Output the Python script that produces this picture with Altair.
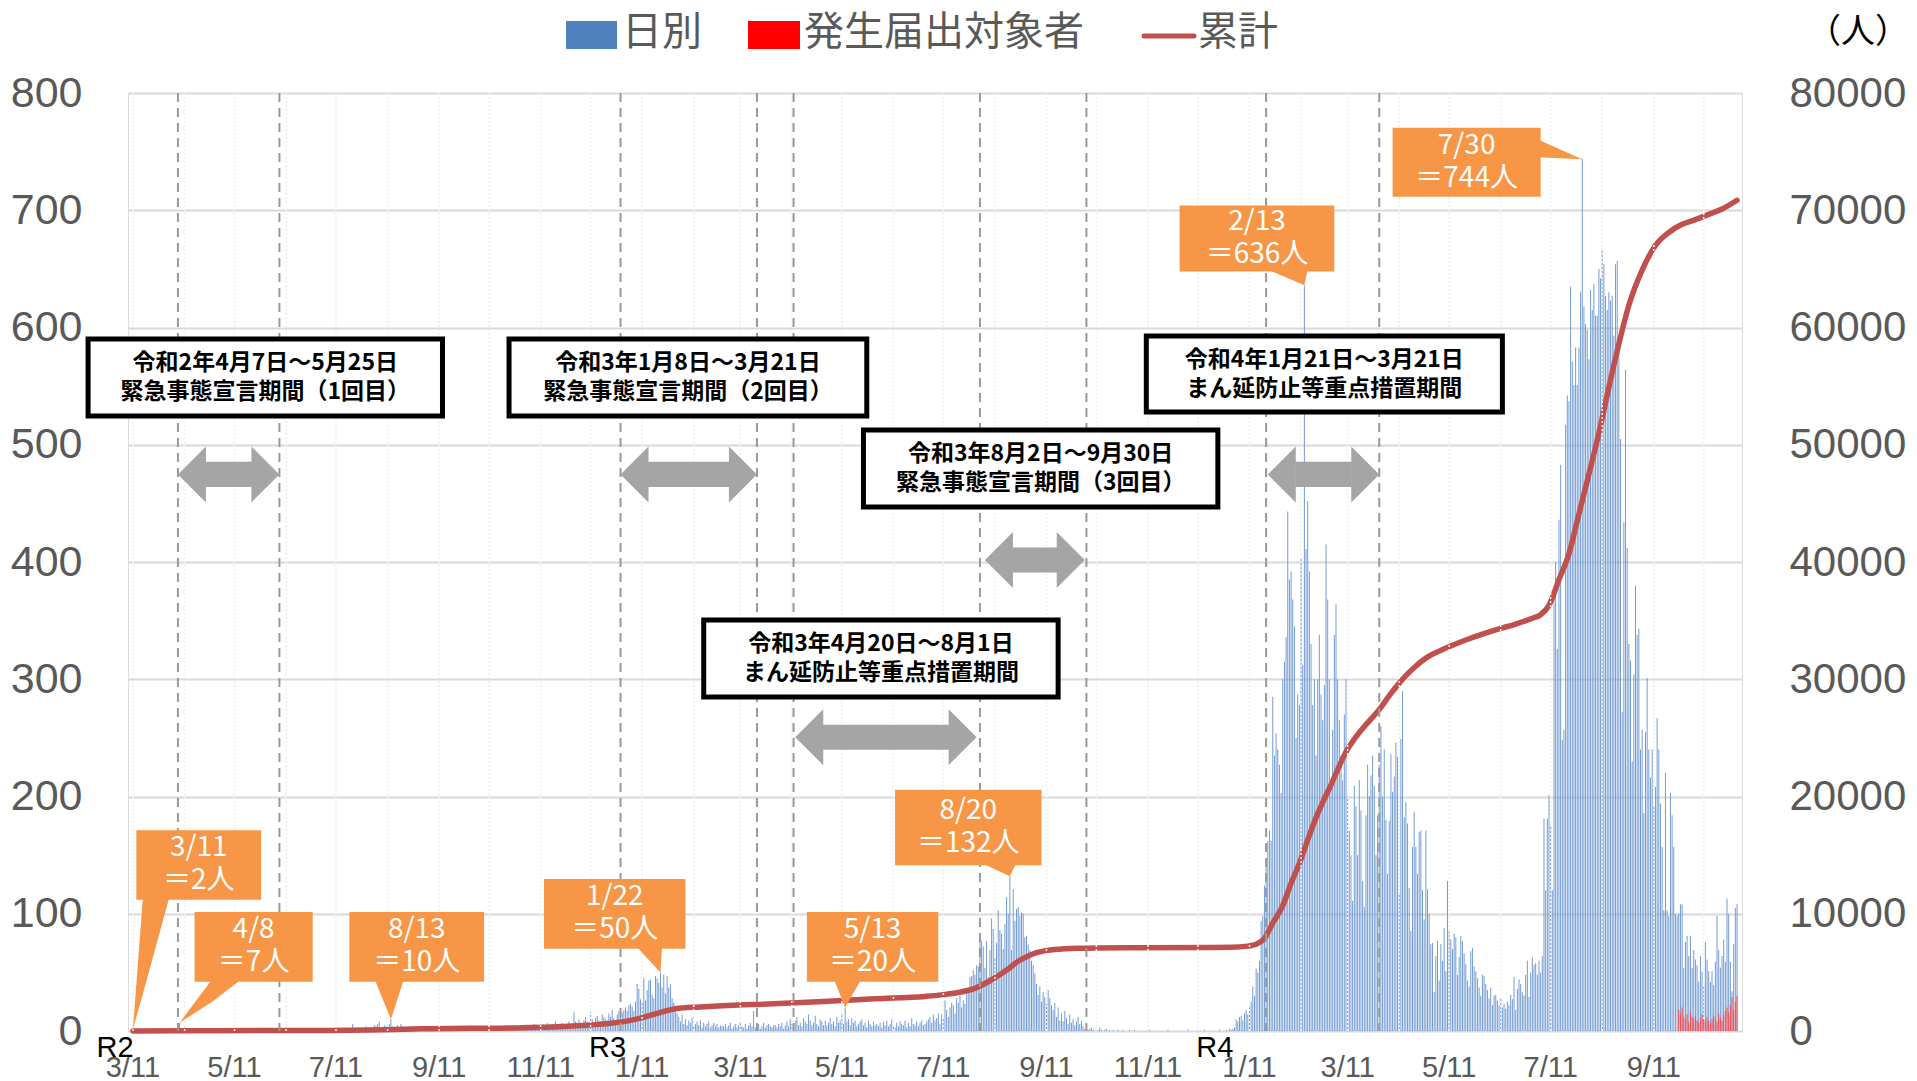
import altair as alt
import pandas as pd

START = "2020-03-11"
END = "2022-10-31"

# ---- 日別 : daily new cases, one list per month ----
d2020_03 = [2,0,0,0,0, 0,0,0,0,0, 0,0,0,1,0, 0,1,0,1,0, 1]
d2020_04 = [0,1,0,2,1, 0,0,7,2,1, 3,1,2,0,1, 2,1,0,1,0, 1,0,1,0,0, 1,0,0,0,0]
d2020_05 = [0,0,1,0,0, 0,0,1,0,0, 0,0,0,1,0, 0,0,0,0,0, 0,0,0,0,0, 0,0,0,0,0, 0]
d2020_06 = [0,0,0,0,0, 0,0,0,0,1, 0,0,0,0,0, 0,0,0,0,0, 0,1,0,0,0, 0,1,0,0,0]
d2020_07 = [0,0,0,1,0, 0,0,1,0,0, 1,0,0,1,0, 2,0,1,0,1, 6,2,1,3,2, 1,0,2,4,3, 2]
d2020_08 = [3,1,5,4,6, 8,3,2,5,4, 3,6,10,4,3, 2,5,3,6,4, 3,2,2,1,1, 2,0,1,2,1, 1]
d2020_09 = [1,2,1,0,1, 2,0,1,1,0, 2,1,0,1,0, 1,1,2,0,0, 1,1,0,1,2, 1,0,1,1,0]
d2020_10 = [1,0,1,2,1, 0,1,1,2,0, 1,1,0,2,1, 1,0,1,2,1, 1,0,2,1,1, 3,1,2,1,1, 2]
d2020_11 = [2,3,1,4,5, 3,6,4,2,5, 4,6,3,5,7, 4,3,6,5,8, 4,6,3,7,5, 4,6,8,5,4]
d2020_12 = [16,8,6,10,7, 5,9,12,8,6, 16,10,7,11,13, 9,8,14,12,10, 9,15,12,18,11, 9,14,17,13,16, 18]
d2021_01 = [20,17,22,23,21, 17,25,40,36,27, 24,45,26,35,43, 44,31,28,47,45, 41,50,37,48,32, 47,37,40,28,24, 18]
d2021_02 = [15,12,8,14,6, 10,5,9,7,11, 4,6,8,5,9, 3,7,4,6,8, 3,5,7,4,6, 3,5,4]
d2021_03 = [4,6,3,5,7, 2,4,6,3,5, 8,4,3,6,2, 5,7,4,17,3, 5,6,2,4,7, 3,5,6,4,3, 5]
d2021_04 = [5,3,6,4,7, 2,5,8,4,10, 6,3,9,12,5, 7,4,11,8,6, 14,9,5,7,13, 6,4,10,8,5]
d2021_05 = [9,5,7,11,6, 8,4,12,7,9, 14,6,20,8,10, 5,11,7,9,4, 6,8,10,5,7, 3,9,6,4,8, 5]
d2021_06 = [6,4,7,3,8, 5,9,4,6,10, 5,3,7,4,8, 6,5,9,3,7, 4,11,6,5,8, 4,7,9,5,6]
d2021_07 = [8,10,12,7,14, 9,11,15,6,14, 10,26,18,12,20, 24,22,15,28,24, 30,20,26,23,33, 34,46,47,52,48, 56]
d2021_08 = [55,79,77,72,54, 77,46,69,96,87, 63,75,103,86,83, 70,91,114,100,132, 69,121,94,104,106, 98,101,100,80,81, 74]
d2021_09 = [69,60,56,49,40, 31,38,25,33,29, 23,35,28,22,18, 24,12,20,9,15, 8,17,11,6,14, 7,10,5,8,12]
d2021_10 = [6,9,4,2,3, 1,2,3,1,0, 2,1,3,1,0, 1,2,0,1,0, 1,0,0,1,0, 0,1,0,0,0, 1]
d2021_11 = [0,0,1,0,0, 0,0,0,0,0, 0,1,0,0,0, 0,0,0,0,0, 0,0,1,0,0, 0,0,0,0,0]
d2021_12 = [0,0,0,0,1, 0,0,0,0,0, 0,0,0,0,1, 0,0,0,0,0, 0,0,0,1,0, 0,0,1,0,2, 1]
d2022_01 = [2,3,10,8,12, 13,9,15,18,14, 20,25,38,30,53, 50,60,94,98,124, 140,162,171,162,285, 235,254,240,227,203, 300]
d2022_02 = [315,336,443,385,392, 368,345,250,287,278, 403,312,636,411,452, 392,330,278,300,235, 300,338,287,265,295, 415,368,300]
d2022_03 = [214,257,338,364,300, 265,235,214,270,300, 200,171,150,111,209, 192,150,214,188,128, 106,184,227,200,218, 235,209,150,184,227, 260]
d2022_04 = [200,240,180,134,179, 236,204,217,246,234, 118,249,290,182,195, 177,122,85,157,187, 157,134,170,171,120, 95,171,121,100,74]
d2022_05 = [75,33,64,77,43, 74,60,88,51,128, 85,78,70,83,80, 48,63,81,77,66, 57,43,38,68,71, 55,51,45,37,30, 48]
d2022_06 = [47,40,35,28,37, 22,30,31,26,22, 28,20,23,19,25, 22,31,27,46,18, 36,44,40,33,30, 48,60,29,50,63]
d2022_07 = [56,58,48,60,50, 64,181,120,181,201, 174,120,377,400,326, 436,483,248,257,517, 542,537,635,571,551, 583,551,583,630,744, 618]
d2022_08 = [603,598,573,632,615, 637,610,610,650,642, 667,654,627,615,630, 623,627,593,654,657, 593,505,272,434,564, 412,330,316,230,304, 380]
d2022_09 = [338,343,240,257,186, 255,301,240,216,240, 191,208,267,240,194, 157,103,220,103,98, 203,184,157,100,98, 100,108,108,54,76]
d2022_10 = [81,64,81,54,69, 61,56,42,64,51, 39,76,61,51,42, 51,39,59,98,69, 54,64,78,59,113, 100,59,34,74,105, 108]

# ---- 発生届出対象者 (from 2022-09-26) ----
RED_START = "2022-09-26"
RED = [18,15,20,12,10, 14,8,16,12,10, 13,9,7,11,14, 10,8,12,9,7, 10,13,11,8,15, 12,9,14,17,20, 16,22,29,18,25,30]

# ---- 累計 : cumulative total ----
CUM_DATES = ["2020-03-11","2020-04-30","2020-06-30","2020-07-31","2020-08-31","2020-09-30","2020-10-31","2020-11-30","2020-12-31",
             "2021-01-10","2021-01-20","2021-01-31","2021-02-15","2021-02-28","2021-03-31","2021-04-30","2021-05-31","2021-06-30",
             "2021-07-10","2021-07-20","2021-07-31","2021-08-05","2021-08-10","2021-08-15","2021-08-20","2021-08-25","2021-08-31",
             "2021-09-05","2021-09-10","2021-09-20","2021-09-30","2021-10-31","2021-12-31",
             "2022-01-10","2022-01-15","2022-01-20","2022-01-25","2022-01-31","2022-02-05","2022-02-10","2022-02-15","2022-02-20",
             "2022-02-25","2022-03-01","2022-03-05","2022-03-10","2022-03-15","2022-03-20","2022-03-25","2022-03-31","2022-04-05",
             "2022-04-10","2022-04-15","2022-04-20","2022-04-27","2022-05-05","2022-05-13","2022-05-21","2022-05-31","2022-06-10",
             "2022-06-20","2022-06-30","2022-07-05","2022-07-10","2022-07-16","2022-07-22","2022-07-28","2022-08-03","2022-08-09",
             "2022-08-15","2022-08-21","2022-08-27","2022-09-04","2022-09-12","2022-09-20","2022-09-28","2022-10-06","2022-10-14",
             "2022-10-22","2022-10-31"]
CUM_VALUES = [0,30,40,80,190,230,280,430,800,
              1100,1500,1900,2050,2150,2320,2520,2750,2950,
              3080,3280,3700,4050,4450,4900,5400,5950,6400,
              6680,6840,6990,7060,7110,7140,
              7240,7400,7900,9200,10700,12600,14300,16300,18200,
              19800,21000,22300,23800,24900,25800,26600,27600,28600,
              29500,30300,31000,31800,32400,32900,33350,33850,34300,
              34700,35200,35500,36300,38500,40700,44100,47500,51000,
              54900,58600,61900,64900,67000,68100,68800,69200,69650,
              70100,70850]

# ---- axes ----
X_TICKS = ["2020-03-11","2020-05-11","2020-07-11","2020-09-11","2020-11-11","2021-01-11","2021-03-11","2021-05-11",
           "2021-07-11","2021-09-11","2021-11-11","2022-01-11","2022-03-11","2022-05-11","2022-07-11","2022-09-11"]
Y_TICKS = [0,100,200,300,400,500,600,700,800]
Y2_TICKS = [0,10000,20000,30000,40000,50000,60000,70000,80000]
ERA_LABELS = ["R2","R3","R4"]
ERA_DATES = ["2020-03-11","2021-01-01","2022-01-01"]

# ---- annotations ----
PERIOD_LINES = ["2020-04-07","2020-06-07","2020-12-29","2021-03-21","2021-04-12","2021-08-02","2021-10-05","2022-01-21","2022-03-30"]
ARROW_FROM = ["2020-04-07","2020-12-29","2022-01-22","2021-08-05","2021-04-13"]
ARROW_TO   = ["2020-06-07","2021-03-21","2022-03-30","2021-10-04","2021-07-31"]
ARROW_Y    = [474.7,474.7,474.7,401.7,250.6]

BOX_TEXT = ["令和2年4月7日～5月25日\n緊急事態宣言期間（1回目）",
            "令和3年1月8日～3月21日\n緊急事態宣言期間（2回目）",
            "令和4年1月21日～3月21日\nまん延防止等重点措置期間",
            "令和3年8月2日～9月30日\n緊急事態宣言期間（3回目）",
            "令和3年4月20日～8月1日\nまん延防止等重点措置期間"]
BOX_X1 = ["2020-02-13","2020-10-23","2021-11-10","2021-05-24","2021-02-17"]
BOX_X2 = ["2020-09-13","2021-05-26","2022-06-12","2021-12-23","2021-09-18"]
BOX_Y1 = [524.5,524.5,527.9,446.9,284.9]
BOX_Y2 = [590.2,590.2,592.7,512.6,350.5]

CALLOUT_TEXT = ["3/11\n＝2人","4/8\n＝7人","8/13\n＝10人","1/22\n＝50人","5/13\n＝20人","8/20\n＝132人","2/13\n＝636人","7/30\n＝744人"]
CALLOUT_X1 = ["2020-03-13","2020-04-17","2020-07-19","2020-11-13","2021-04-20","2021-06-12","2021-11-30","2022-04-07"]
CALLOUT_X2 = ["2020-05-27","2020-06-27","2020-10-08","2021-02-06","2021-07-08","2021-09-08","2022-03-03","2022-07-05"]
CALLOUT_Y1 = [112,42,42,70.2,42,141.4,647.7,711.6]
CALLOUT_Y2 = [171.3,101.4,101.4,129.6,101.4,205.7,704.0,770.4]

POINTER_ID = ["c1"]*3 + ["c2"]*3 + ["c3"]*3 + ["c4"]*3 + ["c5"]*3 + ["c6"]*3 + ["c7"]*3 + ["c8"]*2
POINTER_DATE = ["2020-03-11","2020-03-17","2020-04-02",
                "2020-04-08","2020-04-28","2020-05-16",
                "2020-08-03","2020-08-13","2020-08-21",
                "2021-01-07","2021-01-22","2021-01-23",
                "2021-05-06","2021-05-13","2021-05-23",
                "2021-08-02","2021-08-20","2021-08-24",
                "2022-01-21","2022-02-13","2022-02-15",
                "2022-07-04","2022-07-30"]
POINTER_TOP = [2,115,115, 7,45,45, 45,45,45, 73,73,73, 45,45,45, 144,144,144, 650,650,650, 759.9,743.5]
POINTER_BOTTOM = [2,32,115, 7,25.4,45, 45,10,45, 73,50,73, 45,20,45, 144,132,144, 650,636,650, 745.1,743.5]

# ---------------------------------------------------------------------------
FONT_JP = "Noto Sans CJK JP"
FONT_NUM = "Liberation Sans, Arial, sans-serif"
GRAY_TXT = "#595959"
W, H = 1614, 938


def dt(s):
    y, m, d = (int(v) for v in s.split("-"))
    return alt.DateTime(year=y, month=m, date=d, utc=True)


def iso(ts):
    return ts.strftime("%Y-%m-%dT%H:%M:%SZ")


xscale = alt.Scale(type="utc", domain=[dt(START), dt(END)])


def X(field):
    return alt.X(f"{field}:T", scale=xscale, axis=None, title=None)


def Y(field):
    return alt.Y(f"{field}:Q", scale=alt.Scale(domain=[0, 800]), axis=None, title=None)


daily_vals = (d2020_03 + d2020_04 + d2020_05 + d2020_06 + d2020_07 + d2020_08 + d2020_09 + d2020_10 + d2020_11 + d2020_12
              + d2021_01 + d2021_02 + d2021_03 + d2021_04 + d2021_05 + d2021_06 + d2021_07 + d2021_08 + d2021_09
              + d2021_10 + d2021_11 + d2021_12
              + d2022_01 + d2022_02 + d2022_03 + d2022_04 + d2022_05 + d2022_06 + d2022_07 + d2022_08 + d2022_09 + d2022_10)
daily_df = pd.DataFrame({"date": pd.date_range(START, periods=len(daily_vals), freq="D").strftime("%Y-%m-%d"),
                         "cases": daily_vals})
red_df = pd.DataFrame({"date": pd.date_range(RED_START, periods=len(RED), freq="D").strftime("%Y-%m-%d"),
                       "cases": RED})
cum_df = pd.DataFrame({"date": CUM_DATES, "cum": CUM_VALUES})

x_axis = alt.Axis(labels=False, ticks=False, tickSize=0, domain=True, domainColor="#d9d9d9", domainWidth=2.5,
                  grid=False, title=None)
y_axis = alt.Axis(values=Y_TICKS, labelFont=FONT_NUM, labelFontSize=43, labelColor=GRAY_TXT, labelPadding=46,
                  ticks=False, tickSize=0, domain=False, grid=True, gridColor="#d9d9d9", gridWidth=2,
                  labelFlush=False, labelOverlap=False, orient="left", title=None)
y2_axis = alt.Axis(values=Y2_TICKS, format="d", labelFont=FONT_NUM, labelFontSize=42, labelColor=GRAY_TXT,
                   labelPadding=47, ticks=False, tickSize=0, domain=False, grid=False, labelFlush=False,
                   labelOverlap=False, orient="right", title=None)

# bars carry the bottom axis line and the left axis
bars = alt.Chart(daily_df).mark_bar(width=1, color="#739cd4").encode(
    x=alt.X("date:T", scale=xscale, axis=x_axis, title=None),
    y=alt.Y("cases:Q", scale=alt.Scale(domain=[0, 800]), axis=y_axis, title=None))

line = alt.Chart(cum_df).mark_line(color="#C0504D", strokeWidth=5.5, strokeCap="round", strokeJoin="round",
                                   interpolate="monotone").encode(
    x=X("date"), y=alt.Y("cum:Q", scale=alt.Scale(domain=[0, 80000]), axis=y2_axis, title=None))

# date labels of the bottom axis (m/d at each tick date)
tick_ts = pd.to_datetime(X_TICKS)
tick_df = pd.DataFrame({"date": X_TICKS, "label": [f"{t.month}/{t.day}" for t in tick_ts]})
tick_labels = alt.Chart(tick_df).mark_text(font=FONT_NUM, fontSize=29, color=GRAY_TXT, align="center",
                                           baseline="middle").encode(x=X("date"), y=alt.value(975),
                                                                     text="label:N")

# monthly faint grid
grid_dates = pd.date_range(START, "2022-10-11", freq=pd.DateOffset(months=1)).strftime("%Y-%m-%d")
month_rules = alt.Chart(pd.DataFrame({"date": grid_dates})).mark_rule(
    color="#efefef", strokeDash=[2, 2], strokeWidth=1.5).encode(x=X("date"), y=alt.value(0), y2=alt.value(H))

red_bars = alt.Chart(red_df).mark_bar(width=1, color="#ff4a4a").encode(x=X("date"), y=Y("cases"))

period_rules = alt.Chart(pd.DataFrame({"date": PERIOD_LINES})).mark_rule(
    color="#999999", strokeDash=[9, 6], strokeWidth=2).encode(x=X("date"), y=alt.value(0), y2=alt.value(H))

# ---- arrows ----
HEAD_DAYS = 16.5
HALF_SHAFT = 10.7
a_from = pd.to_datetime(ARROW_FROM)
a_to = pd.to_datetime(ARROW_TO)
arrow_df = pd.DataFrame({
    "s1": [iso(t + pd.Timedelta(days=HEAD_DAYS)) for t in a_from],
    "s2": [iso(t - pd.Timedelta(days=HEAD_DAYS)) for t in a_to],
    "lo": [v - HALF_SHAFT for v in ARROW_Y],
    "hi": [v + HALF_SHAFT for v in ARROW_Y],
    "from": ARROW_FROM, "to": ARROW_TO, "yc": ARROW_Y})
ARROW_GRAY = "#a5a5a5"
shafts = alt.Chart(arrow_df).mark_rect(color=ARROW_GRAY).encode(
    x=X("s1"), x2=alt.X2("s2"), y=Y("lo"), y2=alt.Y2("hi"))
heads_l = alt.Chart(arrow_df).mark_point(shape="M0,0L1,-1L1,1Z", size=3136, filled=True, color=ARROW_GRAY,
                                         opacity=1, strokeWidth=0).encode(x=X("from"), y=Y("yc"))
heads_r = alt.Chart(arrow_df).mark_point(shape="M0,0L-1,-1L-1,1Z", size=3136, filled=True, color=ARROW_GRAY,
                                         opacity=1, strokeWidth=0).encode(x=X("to"), y=Y("yc"))

# ---- black boxes ----
b1 = pd.to_datetime(BOX_X1)
b2 = pd.to_datetime(BOX_X2)
box_df = pd.DataFrame({"x1": BOX_X1, "x2": BOX_X2, "y1": BOX_Y1, "y2": BOX_Y2,
                       "line1": [t.split("\n")[0] for t in BOX_TEXT],
                       "line2": [t.split("\n")[1] for t in BOX_TEXT],
                       "xm": [iso(p + (q - p) / 2) for p, q in zip(b1, b2)],
                       "ym": [(p + q) / 2 for p, q in zip(BOX_Y1, BOX_Y2)]})
box_rects = alt.Chart(box_df).mark_rect(fill="white", stroke="black", strokeWidth=5).encode(
    x=X("x1"), x2=alt.X2("x2"), y=Y("y1"), y2=alt.Y2("y2"))


def box_line(field, dy):
    return alt.Chart(box_df).mark_text(font=FONT_JP, fontSize=23, fontWeight="bold", color="black",
                                       align="center", baseline="middle", dy=dy).encode(
        x=X("xm"), y=Y("ym"), text=f"{field}:N")


# ---- orange callouts ----
ORANGE = "#F79646"
c1 = pd.to_datetime(CALLOUT_X1)
c2 = pd.to_datetime(CALLOUT_X2)
call_df = pd.DataFrame({"x1": CALLOUT_X1, "x2": CALLOUT_X2, "y1": CALLOUT_Y1, "y2": CALLOUT_Y2,
                        "line1": [t.split("\n")[0] for t in CALLOUT_TEXT],
                        "line2": [t.split("\n")[1] for t in CALLOUT_TEXT],
                        "xm": [iso(p + (q - p) / 2) for p, q in zip(c1, c2)],
                        "ym": [(p + q) / 2 for p, q in zip(CALLOUT_Y1, CALLOUT_Y2)]})
pointer_df = pd.DataFrame({"id": POINTER_ID, "date": POINTER_DATE, "top": POINTER_TOP, "bottom": POINTER_BOTTOM})
pointers = alt.Chart(pointer_df).mark_area(color=ORANGE, opacity=1).encode(
    x=X("date"), y=Y("bottom"), y2=alt.Y2("top"), detail="id:N")
call_rects = alt.Chart(call_df).mark_rect(color=ORANGE).encode(
    x=X("x1"), x2=alt.X2("x2"), y=Y("y1"), y2=alt.Y2("y2"))


def call_line(field, dy):
    return alt.Chart(call_df).mark_text(font=FONT_JP, fontSize=28, color="white", align="center",
                                        baseline="middle", dy=dy).encode(
        x=X("xm"), y=Y("ym"), text=f"{field}:N")


# ---- era labels under the axis ----
era_df = pd.DataFrame({"date": ERA_DATES, "label": ERA_LABELS})
era = alt.Chart(era_df).mark_text(font=FONT_NUM, fontSize=29, color="black", align="center",
                                  baseline="middle", dx=-18).encode(x=X("date"), y=alt.value(955), text="label:N")

# ---- legend & unit ----
one = pd.DataFrame({"k": [0]})
leg_blue = alt.Chart(one).mark_rect(color="#4F81BD").encode(
    x=alt.value(438), x2=alt.value(489), y=alt.value(-72), y2=alt.value(-44))
leg_red = alt.Chart(one).mark_rect(color="#FF0000").encode(
    x=alt.value(620), x2=alt.value(672), y=alt.value(-72), y2=alt.value(-44))
leg_line = alt.Chart(one).mark_rule(color="#C0504D", strokeWidth=5, strokeCap="round").encode(
    x=alt.value(1016), x2=alt.value(1066), y=alt.value(-57))


def leg_text(txt, x, size=40, color=GRAY_TXT, align="left"):
    return alt.Chart(one).mark_text(text=txt, font=FONT_JP, fontSize=size, color=color, align=align,
                                    baseline="middle").encode(x=alt.value(x), y=alt.value(-60))


chart = alt.layer(
    bars, line, month_rules, red_bars, period_rules,
    shafts, heads_l, heads_r,
    box_rects, box_line("line1", -14.5), box_line("line2", 14.5),
    pointers, call_rects, call_line("line1", -16.5), call_line("line2", 16.5),
    tick_labels, era,
    leg_blue, leg_text("日別", 494), leg_red, leg_text("発生届出対象者", 676), leg_line,
    leg_text("累計", 1070), leg_text("（人）", 1730, size=34, color="black", align="center"),
).resolve_scale(y="independent").properties(
    width=W, height=H,
    padding={"left": 120, "top": 85, "right": 166, "bottom": 58},
    autosize=alt.AutoSizeParams(type="none"),
).configure_view(strokeWidth=0).configure(background="white")

chart.save("out.html", embed_options={"renderer": "svg", "actions": False})
